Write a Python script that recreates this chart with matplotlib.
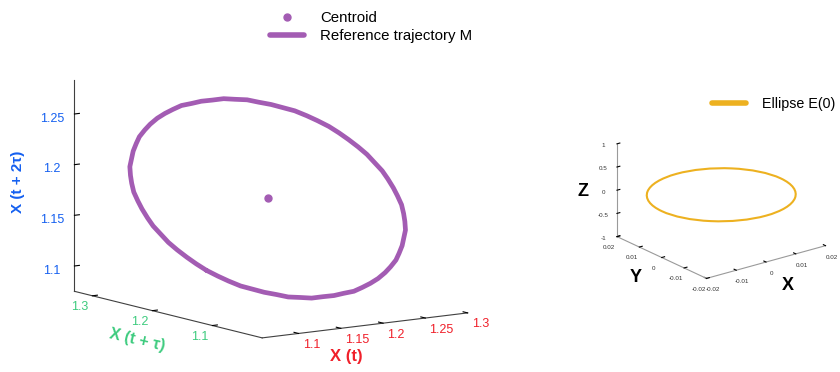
import numpy as np
import matplotlib.pyplot as plt
from matplotlib.lines import Line2D
from matplotlib.patches import Ellipse
import mpl_toolkits.mplot3d.art3d as art3d

plt.rcParams['font.family'] = ['Liberation Sans', 'DejaVu Sans']

# Señal muestreada en un periodo (72 muestras)
senal = [1.177, 1.187, 1.196, 1.206, 1.215, 1.224, 1.233, 1.241, 1.249, 1.256,
         1.263, 1.269, 1.274, 1.279, 1.282, 1.285, 1.287, 1.289, 1.289,
         1.289, 1.287, 1.285, 1.282, 1.279, 1.274, 1.269, 1.263, 1.256, 1.249,
         1.241, 1.233, 1.224, 1.215, 1.206, 1.196, 1.187,
         1.177, 1.167, 1.158, 1.148, 1.139, 1.130, 1.121, 1.113, 1.105, 1.098,
         1.091, 1.085, 1.080, 1.075, 1.072, 1.069, 1.067, 1.065, 1.065,
         1.065, 1.067, 1.069, 1.072, 1.075, 1.080, 1.085, 1.091, 1.098, 1.105,
         1.113, 1.121, 1.130, 1.139, 1.148, 1.158, 1.167]
tau = 23  # retardo en muestras

# Ticks del grafico de la trayectoria
ticks_x = [1.1, 1.15, 1.2, 1.25, 1.3]
etiq_x = ['1.1', '1.15', '1.2', '1.25', '1.3']
ticks_y = [1.1, 1.2, 1.3]
etiq_y = ['1.1', '1.2', '1.3']
ticks_z = [1.1, 1.15, 1.2, 1.25]
etiq_z = ['1.1', '1.15', '1.2', '1.25']

# Elipse E(0): semiejes en X e Y, en el plano Z = 0
semieje_x = 0.02
semieje_y = 0.02
ticks_e_xy = [-0.02, -0.01, 0, 0.01, 0.02]
etiq_e_xy = ['-0.02', '-0.01', '0', '0.01', '0.02']
ticks_e_z = [-1, -0.5, 0, 0.5, 1]
etiq_e_z = ['-1', '-0.5', '0', '0.5', '1']

# Colores
MORADO = '#A35CB3'
NARANJA = '#EDB120'
ROJO = '#F0202A'
VERDE = '#3DCB7E'
AZUL = '#1560F0'

# Embebido con retardo
s = np.array(senal)
x_t = np.append(s, s[0])
x_tau = np.roll(s, -tau)
x_tau = np.append(x_tau, x_tau[0])
x_2tau = np.roll(s, -2 * tau)
x_2tau = np.append(x_2tau, x_2tau[0])
centroide = (x_t[:-1].mean(), x_tau[:-1].mean(), x_2tau[:-1].mean())

fig = plt.figure(figsize=(8.4, 3.72), dpi=100)


def limpiar_ejes(ax, color_linea):
    ax.grid(False)
    for eje in (ax.xaxis, ax.yaxis, ax.zaxis):
        eje.set_pane_color((1, 1, 1, 0))
        eje.pane.set_edgecolor((1, 1, 1, 0))
        eje.line.set_color(color_linea)
        eje.line.set_linewidth(0.8)
        eje._axinfo['tick']['inward_factor'] = 0.0
        eje._axinfo['tick']['outward_factor'] = 0.3
        eje._axinfo['tick']['color'] = color_linea


def ejes_centrados(cx, cy, lado):
    # rectangulo en fraccion de figura a partir de un centro en pixeles
    return [(cx - lado / 2) / 840, 1 - (cy + lado / 2) / 372,
            lado / 840, lado / 372]


# Trayectoria de referencia
ax = fig.add_axes(ejes_centrados(266, 201.5, 372), projection='3d')
ax.set_proj_type('ortho')
ax.view_init(elev=10, azim=-125)
ax.set_box_aspect((249, 325, 213), zoom=1.213)
ax.plot(x_t, x_tau, x_2tau, color=MORADO, linewidth=3.4, solid_capstyle='round')
ax.plot([centroide[0]], [centroide[1]], [centroide[2]], 'o', color=MORADO,
        markersize=5)
ax.set_xlim(1.057, 1.3)
ax.set_ylim(1.017, 1.33)
ax.set_zlim(1.075, 1.2835)
ax.set_xticks(ticks_x, etiq_x)
ax.set_yticks(ticks_y, etiq_y)
ax.set_zticks(ticks_z, etiq_z)
ax.tick_params(axis='x', labelcolor=ROJO, labelsize=9, pad=-5)
ax.tick_params(axis='y', labelcolor=VERDE, labelsize=9, pad=-5)
ax.tick_params(axis='z', labelcolor=AZUL, labelsize=9, pad=0)
for etiqueta in ax.get_xticklabels():
    etiqueta.set_horizontalalignment('left')
for etiqueta in ax.get_yticklabels():
    etiqueta.set_horizontalalignment('right')
limpiar_ejes(ax, '#404040')

fig.text(346 / 840, 1 - 357 / 372, 'X (t)', color=ROJO, fontsize=12,
         fontweight='bold', ha='center', va='center')
fig.text(137 / 840, 1 - 340 / 372, 'X (t + τ)', color=VERDE, fontsize=11.5,
         fontweight='bold', ha='center', va='center', rotation=-13)
fig.text(18 / 840, 1 - 182 / 372, 'X (t + 2τ)', color=AZUL, fontsize=11,
         fontweight='bold', ha='center', va='center', rotation=90)

manejadores = [
    Line2D([], [], color=MORADO, marker='o', linestyle='none', markersize=5),
    Line2D([], [], color=MORADO, linewidth=4, solid_capstyle='round'),
]
fig.legend(manejadores, ['Centroid', 'Reference trajectory M'],
           loc='upper left', bbox_to_anchor=(256 / 840, 1 + 2 / 372),
           frameon=False, fontsize=10.8, handlelength=2.3, handletextpad=1.1,
           labelspacing=0.25)

# Elipse E(0)
ax2 = fig.add_axes(ejes_centrados(718, 198, 240), projection='3d')
ax2.set_proj_type('ortho')
ax2.view_init(elev=21, azim=-127.5)
ax2.set_box_aspect((151, 148, 100), zoom=0.94)
elipse = Ellipse((0, 0), 2 * semieje_x, 2 * semieje_y, fill=False,
                 edgecolor=NARANJA, linewidth=1.5)
ax2.add_patch(elipse)
art3d.pathpatch_2d_to_3d(elipse, z=0, zdir='z')
ax2.set_xlim(-0.02, 0.02)
ax2.set_ylim(-0.02, 0.02)
ax2.set_zlim(-1, 1)
ax2.set_xticks(ticks_e_xy, etiq_e_xy)
ax2.set_yticks(ticks_e_xy, etiq_e_xy)
ax2.set_zticks(ticks_e_z, etiq_e_z)
ax2.tick_params(labelsize=4.5, labelcolor='#333333', pad=-2)
limpiar_ejes(ax2, '#9a9a9a')

fig.text(583 / 840, 1 - 191 / 372, 'Z', fontsize=13, fontweight='bold',
         ha='center', va='center')
fig.text(636 / 840, 1 - 277 / 372, 'Y', fontsize=13, fontweight='bold',
         ha='center', va='center')
fig.text(788 / 840, 1 - 285 / 372, 'X', fontsize=13, fontweight='bold',
         ha='center', va='center')

fig.legend([Line2D([], [], color=NARANJA, linewidth=4, solid_capstyle='round')],
           ['Ellipse E(0)'], loc='center left',
           bbox_to_anchor=(699 / 840, 1 - 104 / 372), frameon=False,
           fontsize=10.3, handlelength=2.4, handletextpad=1.1)

fig.savefig('out.png', dpi=100)
